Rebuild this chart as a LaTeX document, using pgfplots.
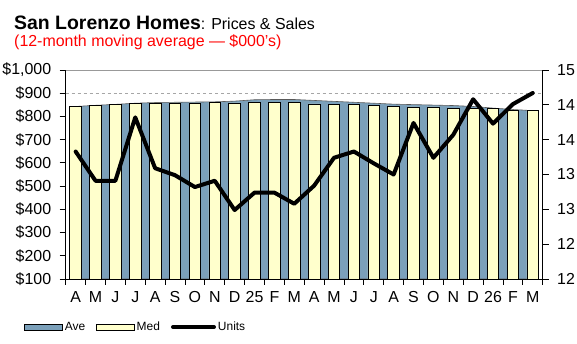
\documentclass[border=0pt]{standalone}
\usepackage{pgfplots}
\pgfplotsset{compat=1.18}
\usepackage{fontspec}
\setmainfont{Liberation Sans}
\definecolor{avecol}{RGB}{123,160,186}
\definecolor{medcol}{RGB}{255,255,204}
\definecolor{ttlred}{RGB}{255,0,0}

\begin{document}
\begin{tikzpicture}
\begin{axis}[
  name=ax1,
  scale only axis, width=477bp, height=209bp,
  xmin=0.5, xmax=24.5, ymin=100, ymax=1000,
  axis x line*=bottom, axis y line*=left,
  axis line style={black, line width=0.8pt, -},
  xtick={1,...,24},
  xticklabels={A,M,J,J,A,S,O,N,D,25,F,M,A,M,J,J,A,S,O,N,D,26,F,M},
  major x tick style={draw=none},
  minor xtick={0.5,1.5,...,24.5},
  tick align=outside, major tick length=6bp, minor tick length=6bp,
  tick style={black, line width=0.8pt},
  ytick={100,200,...,1000},
  yticklabels={\$100,\$200,\$300,\$400,\$500,\$600,\$700,\$800,\$900,\$1{,}000},
  extra y ticks={900}, extra y tick labels={},
  extra y tick style={grid=major, major grid style={dashed, gray!70, line width=0.6pt}},
  ticklabel style={font=\fontsize{16}{19}\selectfont},
  yticklabel style={xshift=-5bp},
  xticklabel style={yshift=-3bp},
  /pgf/number format/assume math mode=true,
]
\addplot[fill=avecol, draw=gray!70!black, line width=0.6pt] coordinates {
(1,843) (2,848) (3,852) (4,857) (5,860) (6,861) (7,862) (8,863)
(9,866) (10,872) (11,873) (12,873) (13,869) (14,865) (15,861) (16,857)
(17,853) (18,851) (19,849) (20,847) (21,843) (22,836) (23,830) (24,825)
} \closedcycle;
\addplot[ybar, bar width=11.7bp, fill=medcol, draw=black, line width=0.8pt] coordinates {
(1,844) (2,848) (3,853) (4,857) (5,858) (6,858) (7,858) (8,861)
(9,858) (10,862) (11,862) (12,862) (13,854) (14,853) (15,850) (16,846)
(17,842) (18,841) (19,841) (20,836) (21,836) (22,833) (23,828) (24,824)
};
\end{axis}

\begin{axis}[
  at={(ax1.south west)}, anchor=south west,
  scale only axis, width=477bp, height=209bp,
  xmin=0.5, xmax=24.5, ymin=12, ymax=15,
  axis y line*=right, axis x line*=top,
  x axis line style={gray!80, line width=0.8pt, -},
  y axis line style={black, line width=0.8pt, -},
  xtick=\empty,
  tick align=outside, major tick length=6bp,
  tick style={black, line width=0.8pt},
  ytick={12,12.5,13,13.5,14,14.5,15},
  yticklabels={12,12,13,13,14,14,15},
  ticklabel style={font=\fontsize{16}{19}\selectfont},
  yticklabel style={xshift=5bp},
  /pgf/number format/assume math mode=true,
  legend style={at={(-0.0937,-0.2297)}, anchor=west, draw=none, fill=none,
    legend columns=3, font=\fontsize{12}{14}\selectfont,
    /tikz/every even column/.append style={column sep=9bp}},
  legend cell align=left,
]
\addlegendimage{legend image code/.code={\draw[fill=avecol, draw=black, line width=0.6pt] (0bp,-3bp) rectangle (38bp,3bp);}}
\addlegendentry{Ave}
\addlegendimage{legend image code/.code={\draw[fill=medcol, draw=black, line width=0.6pt] (0bp,-3bp) rectangle (38bp,3bp);}}
\addlegendentry{Med}
\addplot[black, line width=4bp, line join=round, line cap=round,
  legend image code/.code={\draw[black, line width=4bp] (0bp,0bp) -- (41bp,0bp);}] coordinates {
(1,13.83) (2,13.41) (3,13.41) (4,14.32) (5,13.59) (6,13.49) (7,13.32) (8,13.41)
(9,12.99) (10,13.24) (11,13.24) (12,13.08) (13,13.34) (14,13.74) (15,13.83) (16,13.66)
(17,13.50) (18,14.24) (19,13.74) (20,14.07) (21,14.58) (22,14.23) (23,14.51) (24,14.67)
};
\addlegendentry{Units}
\end{axis}

\begin{scope}[shift={(ax1.south west)}]
\node[anchor=base west, inner sep=0pt] at (-51.7bp,249.7bp) {\fontsize{19.5}{22}\selectfont\bfseries San Lorenzo Homes\mdseries\fontsize{16}{19}\selectfont: Prices \& Sales};
\node[anchor=base west, inner sep=0pt, text=ttlred] at (-51.7bp,232.3bp) {\fontsize{16}{19}\selectfont (12-month moving average — \$000's)};
\pgfresetboundingbox
\path[use as bounding box] (-65.7bp,-65bp) rectangle (511.3bp,279bp);
\end{scope}
\end{tikzpicture}
\end{document}
